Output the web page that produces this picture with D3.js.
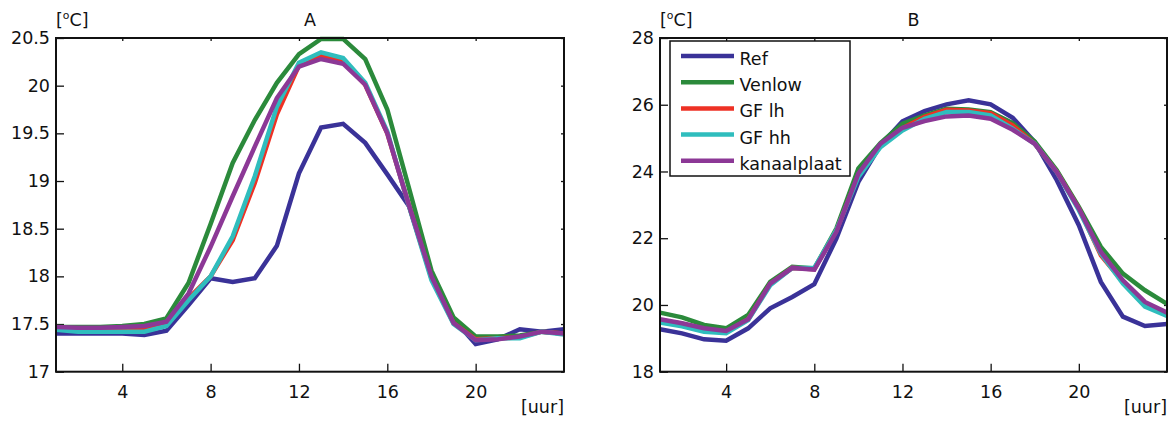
<!DOCTYPE html>
<html>
<head>
<meta charset="utf-8">
<script src="https://cdn.jsdelivr.net/npm/d3@7"></script>
<style>
  body { margin: 0; background: #fff; }
  svg { display: block; font-family: "DejaVu Sans", Verdana, sans-serif; }
  text { fill: #111; }
</style>
</head>
<body>
<svg width="1173" height="423"></svg>
<script>
const hours = [1, 2, 3, 4, 5, 6, 7, 8, 9, 10, 11, 12, 13, 14, 15, 16, 17, 18, 19, 20, 21, 22, 23, 24];
const seriesNames = ["Ref", "Venlow", "GF lh", "GF hh", "kanaalplaat"];
const colors = ["#3a3298", "#2b8a3b", "#ee3124", "#2fbdbd", "#8c3896"];

const xTicks = [4, 8, 12, 16, 20];
const yTicksA = [17, 17.5, 18, 18.5, 19, 19.5, 20, 20.5];
const yTicksB = [18, 20, 22, 24, 26, 28];

// panel A
const refA = [17.40, 17.40, 17.40, 17.40, 17.385, 17.43, 17.70, 17.98, 17.94, 17.98, 18.32, 19.08, 19.56, 19.60, 19.40, 19.07, 18.73, 18.00, 17.55, 17.29, 17.34, 17.445, 17.42, 17.445];
const venA = [17.47, 17.47, 17.47, 17.48, 17.50, 17.56, 17.93, 18.55, 19.19, 19.64, 20.03, 20.33, 20.49, 20.49, 20.28, 19.75, 18.91, 18.06, 17.57, 17.37, 17.37, 17.38, 17.42, 17.40];
const lhA  = [17.45, 17.45, 17.44, 17.44, 17.45, 17.50, 17.77, 18.00, 18.38, 18.98, 19.70, 20.21, 20.31, 20.26, 20.01, 19.50, 18.73, 17.98, 17.51, 17.34, 17.35, 17.36, 17.42, 17.40];
const hhA  = [17.44, 17.42, 17.42, 17.42, 17.42, 17.48, 17.75, 18.00, 18.42, 19.05, 19.78, 20.24, 20.35, 20.29, 20.03, 19.52, 18.72, 17.96, 17.50, 17.33, 17.35, 17.35, 17.42, 17.39];
const kanA = [17.47, 17.46, 17.46, 17.47, 17.48, 17.525, 17.82, 18.31, 18.84, 19.36, 19.87, 20.20, 20.28, 20.23, 20.01, 19.50, 18.73, 18.00, 17.51, 17.33, 17.34, 17.37, 17.42, 17.40];

// panel B
const refB = [19.27, 19.15, 18.97, 18.93, 19.30, 19.90, 20.24, 20.62, 21.99, 23.69, 24.78, 25.50, 25.81, 26.01, 26.13, 26.01, 25.61, 24.88, 23.74, 22.39, 20.69, 19.65, 19.37, 19.43];
const venB = [19.77, 19.63, 19.40, 19.30, 19.70, 20.69, 21.14, 21.09, 22.29, 24.09, 24.85, 25.43, 25.68, 25.88, 25.86, 25.78, 25.45, 24.90, 24.04, 22.94, 21.74, 20.94, 20.44, 20.03];
const lhB  = [19.55, 19.44, 19.28, 19.20, 19.57, 20.63, 21.11, 21.07, 22.22, 23.90, 24.80, 25.30, 25.64, 25.85, 25.83, 25.75, 25.38, 24.83, 23.99, 22.89, 21.49, 20.69, 20.04, 19.75];
const hhB  = [19.47, 19.36, 19.20, 19.15, 19.55, 20.59, 21.11, 21.11, 22.24, 23.84, 24.73, 25.23, 25.58, 25.78, 25.78, 25.68, 25.28, 24.83, 23.98, 22.84, 21.54, 20.64, 19.95, 19.67];
const kanB = [19.57, 19.45, 19.30, 19.22, 19.57, 20.64, 21.11, 21.06, 22.19, 23.94, 24.83, 25.31, 25.51, 25.65, 25.68, 25.58, 25.25, 24.83, 23.98, 22.89, 21.59, 20.74, 20.09, 19.77];

const svg = d3.select("svg");
const fontSize = 17.5;

const panels = [
  { title: "A", left: 56, right: 564, yDomain: [17, 20.5], yTicks: yTicksA, series: [refA, venA, lhA, hhA, kanA], legend: false },
  { title: "B", left: 660, right: 1167, yDomain: [18, 28], yTicks: yTicksB, series: [refB, venB, lhB, hhB, kanB], legend: true }
];
const plotTop = 38, plotBottom = 371.7;

panels.forEach(p => {
  const x = d3.scaleLinear().domain([1, 24]).range([p.left, p.right]);
  const y = d3.scaleLinear().domain(p.yDomain).range([plotBottom, plotTop]);
  const g = svg.append("g");

  // axes: bottom/left with labels, top/right just short ticks
  const axB = g.append("g").attr("transform", `translate(0,${plotBottom})`)
    .call(d3.axisBottom(x).tickValues(xTicks).tickSize(-8).tickPadding(14).tickFormat(d3.format("d")));
  const axT = g.append("g").attr("transform", `translate(0,${plotTop})`)
    .call(d3.axisTop(x).tickValues(xTicks).tickSize(-3).tickFormat(""));
  const axL = g.append("g").attr("transform", `translate(${p.left},0)`)
    .call(d3.axisLeft(y).tickValues(p.yTicks).tickSize(-8).tickPadding(6).tickFormat(d => String(d)));
  const axR = g.append("g").attr("transform", `translate(${p.right},0)`)
    .call(d3.axisRight(y).tickValues(p.yTicks).tickSize(-3).tickFormat(""));

  [axB, axT, axL, axR].forEach(a => {
    a.select(".domain").remove();
    a.selectAll(".tick line").attr("stroke", "#111").attr("stroke-width", 1.3);
    a.selectAll("text").attr("font-size", fontSize).attr("font-family", "DejaVu Sans").attr("fill", "#111");
  });

  // data lines
  const line = d3.line().x((d, i) => x(hours[i])).y(d => y(d));
  p.series.forEach((s, i) => {
    g.append("path").datum(s)
      .attr("fill", "none")
      .attr("stroke", colors[i])
      .attr("stroke-width", 4.5)
      .attr("stroke-linejoin", "miter")
      .attr("d", line);
  });

  // box
  g.append("rect")
    .attr("x", p.left).attr("y", plotTop)
    .attr("width", p.right - p.left).attr("height", plotBottom - plotTop)
    .attr("fill", "none").attr("stroke", "#111").attr("stroke-width", 2);

  // titles
  g.append("text").attr("x", (p.left + p.right) / 2).attr("y", 26)
    .attr("text-anchor", "middle").attr("font-size", fontSize).text(p.title);
  const unit = g.append("text").attr("x", p.left).attr("y", 26).attr("font-size", fontSize);
  unit.append("tspan").text("[");
  unit.append("tspan").attr("font-size", fontSize * 0.62).attr("dy", -7).text("o");
  unit.append("tspan").attr("dy", 7).text("C]");
  g.append("text").attr("x", p.right).attr("y", 413)
    .attr("text-anchor", "end").attr("font-size", fontSize).text("[uur]");

  if (p.legend) {
    const lx = p.left + 10, ly = plotTop + 3;
    const lg = g.append("g");
    lg.append("rect").attr("x", lx).attr("y", ly).attr("width", 180).attr("height", 135)
      .attr("fill", "#fff").attr("stroke", "#111").attr("stroke-width", 1.5);
    seriesNames.forEach((name, i) => {
      const yy = ly + 15 + i * 26.2;
      lg.append("line").attr("x1", lx + 11).attr("x2", lx + 64)
        .attr("y1", yy).attr("y2", yy)
        .attr("stroke", colors[i]).attr("stroke-width", 4.5);
      lg.append("text").attr("x", lx + 69.5).attr("y", yy + 9)
        .attr("font-size", fontSize).text(name);
    });
  }
});
</script>
</body>
</html>
